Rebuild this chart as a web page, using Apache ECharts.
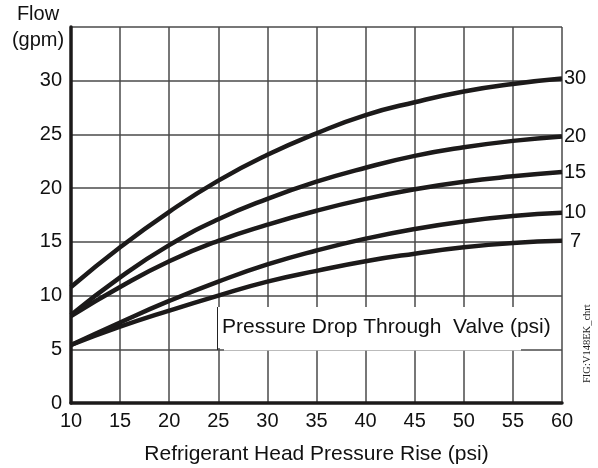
<!DOCTYPE html>
<html><head><meta charset="utf-8">
<script src="https://cdn.jsdelivr.net/npm/echarts@6/dist/echarts.min.js"></script>
<style>html,body{margin:0;padding:0;background:#fff}#c{width:598px;height:468px}</style>
</head><body><div id="c"></div>
<script>
const xValues = [10, 15, 20, 25, 30, 35, 40, 45, 50, 55, 60];
const seriesNames = ['30', '20', '15', '10', '7'];
const flow30 = [10.8, 14.5, 17.8, 20.7, 23.1, 25.1, 26.8, 28.0, 29.0, 29.7, 30.2];
const flow20 = [8.2, 11.7, 14.7, 17.1, 19.0, 20.6, 21.9, 23.0, 23.8, 24.4, 24.8];
const flow15 = [8.1, 10.8, 13.2, 15.1, 16.6, 17.9, 19.0, 19.9, 20.6, 21.1, 21.5];
const flow10 = [5.4, 7.5, 9.5, 11.3, 12.9, 14.2, 15.3, 16.2, 16.9, 17.4, 17.7];
const flow7  = [5.4, 7.1, 8.6, 10.0, 11.3, 12.3, 13.2, 13.9, 14.5, 14.9, 15.1];
const allFlows = [flow30, flow20, flow15, flow10, flow7];
const xTicks = [10, 15, 20, 25, 30, 35, 40, 45, 50, 55, 60];
const yTicks = [0, 5, 10, 15, 20, 25, 30];

const font = 'Liberation Sans, Arial, sans-serif';
const chart = echarts.init(document.getElementById('c'), null, {renderer: 'canvas'});
const series = seriesNames.map((n, i) => ({
  name: n,
  type: 'line',
  smooth: 0.5,
  showSymbol: false,
  data: xValues.map((x, j) => [x, allFlows[i][j]]),
  lineStyle: {color: '#1c1a1a', width: 4.5},
  endLabel: {show: true, formatter: n, color: '#111', fontSize: 20, fontFamily: font, distance: 2,
    offset: n === '7' ? [6, 1] : [0, 0]},
  z: 3
}));
chart.setOption({
  animation: false,
  grid: {left: 71, right: 36, top: 27, bottom: 65, containLabel: false, outerBoundsMode: 'none'},
  xAxis: {
    type: 'value', min: 10, max: 60, interval: 5,
    axisLine: {show: true, lineStyle: {color: '#1c1a1a', width: 3.5}},
    axisTick: {show: false},
    axisLabel: {color: '#111', fontSize: 20, fontFamily: font, margin: 8,
      formatter: v => xTicks.includes(v) ? String(v) : ''},
    splitLine: {show: true, lineStyle: {color: '#4a4a4a', width: 1.5}},
    name: 'Refrigerant Head Pressure Rise (psi)', nameLocation: 'middle', nameGap: 41,
    nameTextStyle: {color: '#111', fontSize: 21, fontFamily: font}
  },
  yAxis: {
    type: 'value', min: 0, max: 35, interval: 5,
    axisLine: {show: true, lineStyle: {color: '#1c1a1a', width: 3.5}},
    axisTick: {show: false},
    axisLabel: {color: '#111', fontSize: 20, fontFamily: font, margin: 9,
      formatter: v => yTicks.includes(v) ? String(v) : ''},
    splitLine: {show: true, lineStyle: {color: '#4a4a4a', width: 1.5}},
    name: 'Flow\n(gpm)', nameLocation: 'end', nameGap: -26,
    nameTextStyle: {color: '#111', fontSize: 20, fontFamily: font, align: 'center', lineHeight: 26, padding: [0, 0, 0, -66]}
  },
  series: series,
  graphic: [
    {type: 'rect', shape: {x: 218, y: 307, width: 343, height: 41}, style: {fill: '#fff'}, z: 10},
    {type: 'rect', shape: {x: 224, y: 347.5, width: 297, height: 3}, style: {fill: '#fff'}, z: 10},
    {type: 'line', shape: {x1: 217.5, y1: 307, x2: 217.5, y2: 350}, style: {stroke: '#222', lineWidth: 1}, z: 11},
    {type: 'text', x: 222, y: 327, z: 12,
      style: {text: 'Pressure Drop Through  Valve (psi)', fill: '#111', font: '21px ' + font, textVerticalAlign: 'middle'}},
    {type: 'text', x: 582, y: 383, rotation: Math.PI / 2, z: 12,
      style: {text: 'FIG:V148EK_chrt', fill: '#222', font: '10.5px Liberation Serif, Times New Roman, serif', textVerticalAlign: 'top'}}
  ]
});
</script></body></html>
